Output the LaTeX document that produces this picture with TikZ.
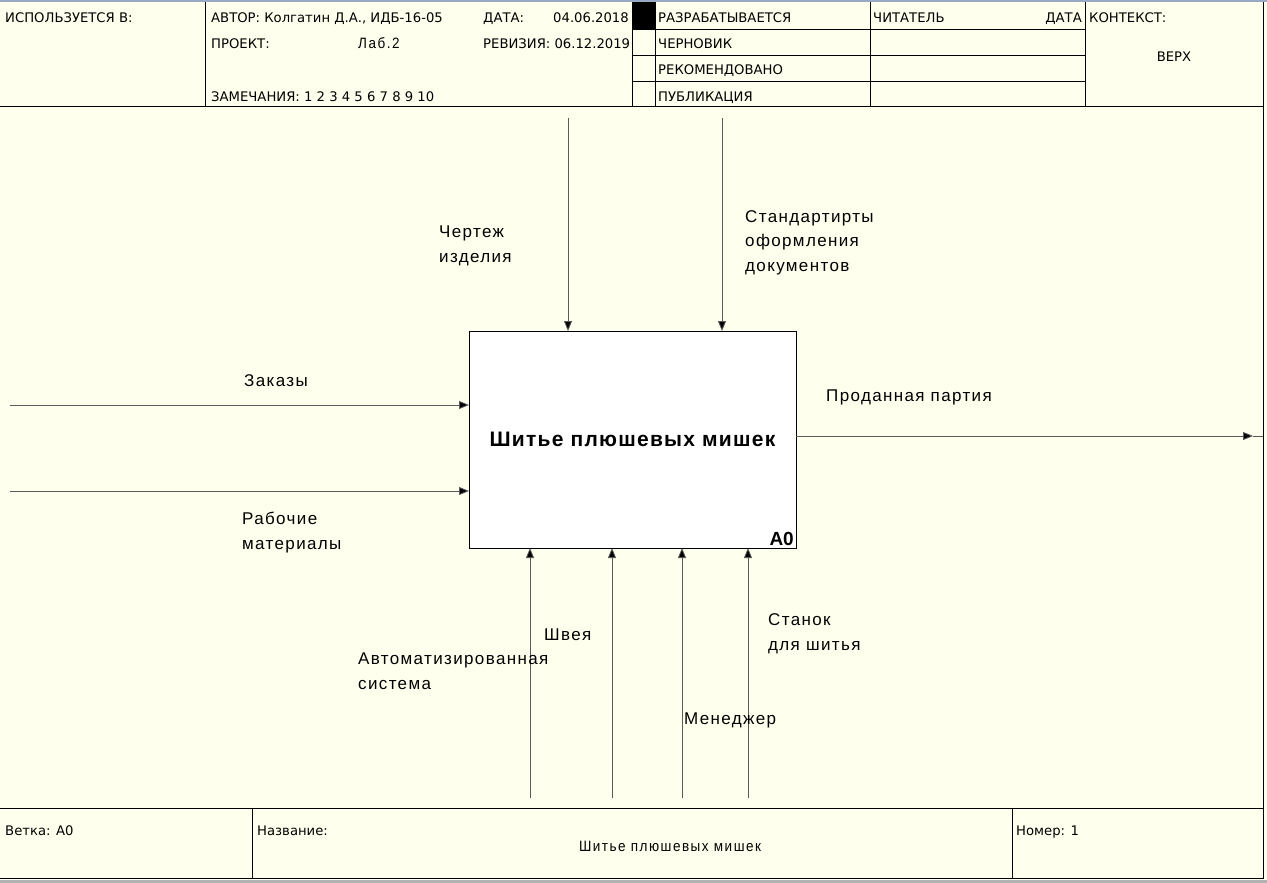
\documentclass[tikz,border=0pt]{standalone}
\usepackage{fontspec}
\setmainfont{Liberation Sans}
\newfontfamily\hdrfont{DejaVu Sans}
\newfontfamily\thinfont[FakeStretch=0.9,LetterSpace=10]{Liberation Sans}
\usepackage{tikz}
\usetikzlibrary{arrows.meta}

\definecolor{paper}{RGB}{255,255,238}
\definecolor{winband}{RGB}{150,170,195}
\definecolor{lineg}{RGB}{90,90,90}

\tikzset{
  hdr/.style={anchor=base west,inner sep=0pt,font=\hdrfont\fontsize{13.2}{14}\selectfont},
  thin/.style={anchor=base west,inner sep=0pt,font=\thinfont\fontsize{15}{16}\selectfont},
  lbl/.style={anchor=base west,inner sep=0pt,align=left,
    font=\fontsize{17}{24.5}\selectfont\addfontfeatures{LetterSpace=8}},
  arr/.style={draw=lineg,line width=0.8pt,-{Triangle[length=10pt,width=8pt,fill=black]}}
}

\begin{document}
\begin{tikzpicture}[x=1pt,y=-1pt]

    % Page
    \fill[paper] (0,0) rectangle (1267,883);
    \useasboundingbox (0,0) rectangle (1267,883);
    \fill[winband] (0,0) rectangle (1267,2.5);
    \fill[gray!60] (0,880) rectangle (1267,883);
    \draw[line width=1.5pt] (1263.5,2.5) -- (1263.5,878.5) -- (0,878.5);

    % Header
    \draw[line width=1pt] (0,106) -- (1263,106);
    \draw[line width=0.8pt] (205,2.5) -- (205,106);
    \draw[line width=0.8pt] (632,2.5) -- (632,106);
    \draw[line width=0.8pt] (655,2.5) -- (655,106);
    \draw[line width=0.8pt] (870,2.5) -- (870,106);
    \draw[line width=0.8pt] (1085,2.5) -- (1085,106);
    \foreach \yy in {29,55,81}
      \draw[line width=0.8pt] (632,\yy) -- (1085,\yy);
    \fill (632,2.5) rectangle (655,29);

    \node[hdr] (usedin) at (5,23) {ИСПОЛЬЗУЕТСЯ В:};
    \node[hdr] (author) at (211,23) {АВТОР: Колгатин Д.А., ИДБ-16-05};
    \node[hdr] (date) at (483,23) {ДАТА:};
    \node[hdr,anchor=base east] (dateval) at (629,23) {04.06.2018};
    \node[hdr] (project) at (211,49) {ПРОЕКТ:};
    \node[thin] (projval) at (358,49) {Лаб.2};
    \node[hdr] (revision) at (483,49) {РЕВИЗИЯ: 06.12.2019};
    \node[hdr] (notes) at (211,101) {ЗАМЕЧАНИЯ: 1 2 3 4 5 6 7 8 9 10};
    \node[hdr] (working) at (658,23) {РАЗРАБАТЫВАЕТСЯ};
    \node[hdr] (draft) at (658,49) {ЧЕРНОВИК};
    \node[hdr] (recom) at (658,75) {РЕКОМЕНДОВАНО};
    \node[hdr] (publ) at (658,101) {ПУБЛИКАЦИЯ};
    \node[hdr] (reader) at (873,23) {ЧИТАТЕЛЬ};
    \node[hdr,anchor=base east] (rdate) at (1082,23) {ДАТА};
    \node[hdr] (context) at (1089,23) {КОНТЕКСТ:};
    \node[hdr,anchor=base] (top) at (1174,62) {ВЕРХ};

    % Footer
    \draw[line width=1pt] (0,808) -- (1263,808);
    \draw[line width=0.8pt] (252,808) -- (252,878);
    \draw[line width=0.8pt] (1012,808) -- (1012,878);
    \node[hdr] (node) at (5,835) {Ветка: A0};
    \node[hdr] (title) at (257,835) {Название:};
    \node[thin,anchor=base] (titleval) at (670,851) {Шитье плюшевых мишек};
    \node[hdr] (number) at (1016,835) {Номер: 1};

    % Activity box
    \node[draw,fill=white,line width=1pt,minimum width=327pt,minimum height=217pt,
      anchor=north west,inner sep=0pt,outer sep=0pt] (a0) at (469,331) {};
    \node[font=\fontsize{21}{24}\selectfont\bfseries\addfontfeatures{LetterSpace=6}] (a0name) at (a0.center) {Шитье плюшевых мишек};
    \node[anchor=south east,inner sep=2pt,font=\fontsize{19}{20}\selectfont\bfseries] (a0num) at (a0.south east) {A0};

    % Controls
    \coordinate (ctl1) at (568,118);
    \coordinate (ctl2) at (722,118);
    \draw[arr] (ctl1) -- (ctl1 |- a0.north);
    \draw[arr] (ctl2) -- (ctl2 |- a0.north);
    \node[lbl] (drawing) at (439,262) {Чертеж\\изделия};
    \node[lbl] (standards) at (745,271) {Стандартирты\\оформления\\документов};

    % Inputs
    \coordinate (in1) at (10,405);
    \coordinate (in2) at (10,491);
    \draw[arr] (in1) -- (in1 -| a0.west);
    \draw[arr] (in2) -- (in2 -| a0.west);
    \node[lbl] (orders) at (244,386) {Заказы};
    \node[lbl] (material) at (242,549) {Рабочие\\материалы};

    % Output
    \coordinate (out1) at (1253,436);
    \draw[arr] (out1 -| a0.east) -- (out1);
    \draw[draw=lineg,line width=0.8pt] (out1) -- (1263,436);
    \node[lbl] (sold) at (826,401) {Проданная партия};

    % Mechanisms
    \coordinate (mech1) at (530,798);
    \coordinate (mech2) at (612,798);
    \coordinate (mech3) at (682,798);
    \coordinate (mech4) at (748,798);
    \foreach \m in {mech1,mech2,mech3,mech4}
      \draw[arr] (\m) -- (\m |- a0.south);
    \node[lbl] (autosys) at (358,689) {Автоматизированная\\система};
    \node[lbl] (seamstress) at (544,640) {Швея};
    \node[lbl] (manager) at (684,724) {Менеджер};
    \node[lbl] (machine) at (768,650) {Станок\\для шитья};

\end{tikzpicture}
\end{document}
